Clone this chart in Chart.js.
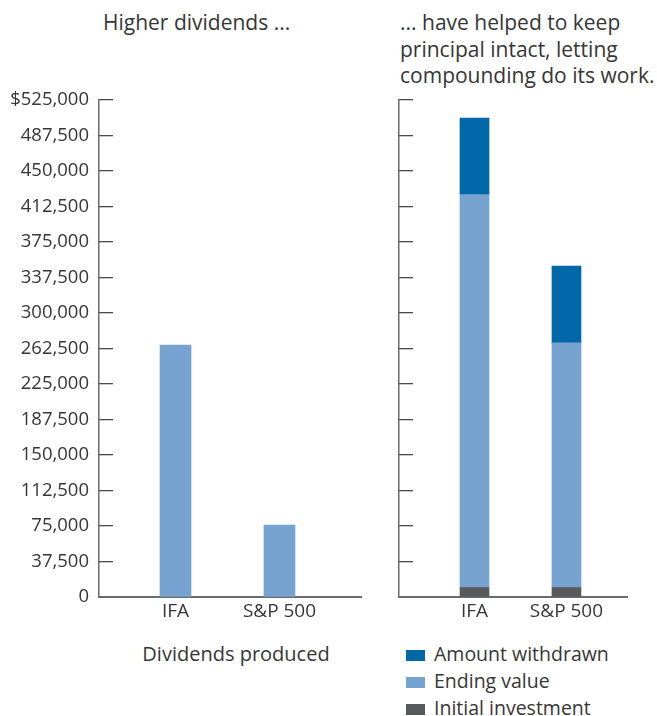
<!DOCTYPE html>
<html lang="en">
<head>
    <meta charset="UTF-8">
    <title>Higher dividends</title>
    <script src="https://cdn.jsdelivr.net/npm/chart.js@4/dist/chart.umd.min.js"></script>
    <style>
        body {
            margin: 0;
            background: #fff;
            font-family: "Open Sans", Lato, sans-serif;
            color: #363636;
        }
        .wrap {
            position: relative;
            width: 657px;
            height: 716px;
            overflow: hidden;
        }
        .title {
            position: absolute;
            font-size: 21px;
            line-height: 26.5px;
            top: 9px;
            white-space: nowrap;
        }
        .panel {
            position: absolute;
            top: 0;
        }
        .xtitle {
            position: absolute;
            left: 126px;
            width: 220px;
            top: 641px;
            text-align: center;
            font-size: 20px;
            line-height: 26.5px;
        }
        .legend {
            position: absolute;
            left: 406px;
            top: 641px;
            font-size: 19.5px;
        }
        .legend div {
            height: 27px;
            line-height: 26.5px;
            white-space: nowrap;
        }
        .legend span {
            display: inline-block;
            width: 19px;
            height: 11px;
            margin-right: 9px;
            vertical-align: 0px;
        }
    </style>
</head>
<body>
<div class="wrap">
    <div class="title" style="left:103px">Higher dividends ...</div>
    <div class="title" style="left:400px">... have helped to keep<br>principal intact, letting<br>compounding do its work.</div>
    <div class="panel" style="left:0"><canvas id="divChart" width="380" height="640"></canvas></div>
    <div class="panel" style="left:380px"><canvas id="valueChart" width="277" height="640"></canvas></div>
    <div class="xtitle">Dividends produced</div>
    <div class="legend" id="legend"></div>
</div>

<script>
    // data
    const categories = ['IFA', 'S&P 500'];
    const dividends = [266000, 76000];
    const initialInvestment = [10000, 10000];
    const endingValue = [415000, 258500];
    const amountWithdrawn = [81000, 81000];

    const yMax = 525000;
    const yStep = 37500;
    const yTickLabels = ['0', '37,500', '75,000', '112,500', '150,000', '187,500', '225,000',
        '262,500', '300,000', '337,500', '375,000', '412,500', '450,000', '487,500', '$525,000'];

    const colors = {
        withdrawn: '#0068a9',
        ending: '#77a3d0',
        initial: '#58595b'
    };

    const toPoints = arr => arr.map((v, i) => ({ x: i + 1, y: v }));

    function yAxis(width, showLabels) {
        return {
            min: 0,
            max: yMax,
            stacked: true,
            afterFit: s => { s.width = width; },
            border: { color: '#6b6b6b', width: 1.5 },
            grid: {
                drawOnChartArea: false,
                drawTicks: true,
                tickLength: -14,
                color: '#4a4a4a',
                lineWidth: 1.3
            },
            ticks: {
                display: showLabels,
                stepSize: yStep,
                padding: 24,
                color: '#363636',
                font: { family: 'Open Sans', size: 18.5 },
                callback: (v, i) => yTickLabels[i]
            }
        };
    }

    function xAxis(min, max) {
        return {
            type: 'linear',
            min: min,
            max: max,
            offset: false,
            stacked: true,
            afterFit: s => { s.height = 43; },
            afterBuildTicks: s => { s.ticks = categories.map((c, i) => ({ value: i + 1 })); },
            border: { color: '#6b6b6b', width: 2 },
            grid: { drawOnChartArea: false, drawTicks: false },
            ticks: {
                padding: 3,
                color: '#363636',
                font: { family: 'Open Sans', size: 19 },
                callback: v => categories[v - 1]
            }
        };
    }

    const common = {
        responsive: false,
        animation: false,
        plugins: { legend: { display: false }, tooltip: { enabled: false } }
    };

    new Chart(document.getElementById('divChart'), {
        type: 'bar',
        data: {
            datasets: [{
                label: 'Dividends produced',
                data: toPoints(dividends),
                backgroundColor: colors.ending,
                barThickness: 31
            }]
        },
        options: {
            ...common,
            layout: { padding: { top: 100, right: 19, left: 0, bottom: 0 } },
            scales: {
                x: xAxis(0.264, 2.784),
                y: yAxis(99, true)
            }
        }
    });

    const stacked = [
        { label: 'Initial investment', data: initialInvestment, color: colors.initial },
        { label: 'Ending value', data: endingValue, color: colors.ending },
        { label: 'Amount withdrawn', data: amountWithdrawn, color: colors.withdrawn }
    ];

    new Chart(document.getElementById('valueChart'), {
        type: 'bar',
        data: {
            datasets: stacked.map(d => ({
                label: d.label,
                data: toPoints(d.data),
                backgroundColor: d.color,
                barThickness: 29
            }))
        },
        options: {
            ...common,
            layout: { padding: { top: 100, right: 30, left: 0, bottom: 0 } },
            scales: {
                x: xAxis(0.179, 2.658),
                y: yAxis(19, false)
            }
        }
    });

    // legend, top entry first
    const legend = document.getElementById('legend');
    stacked.slice().reverse().forEach(d => {
        const row = document.createElement('div');
        row.innerHTML = '<span style="background:' + d.color + '"></span>' + d.label;
        legend.appendChild(row);
    });
</script>
</body>
</html>
